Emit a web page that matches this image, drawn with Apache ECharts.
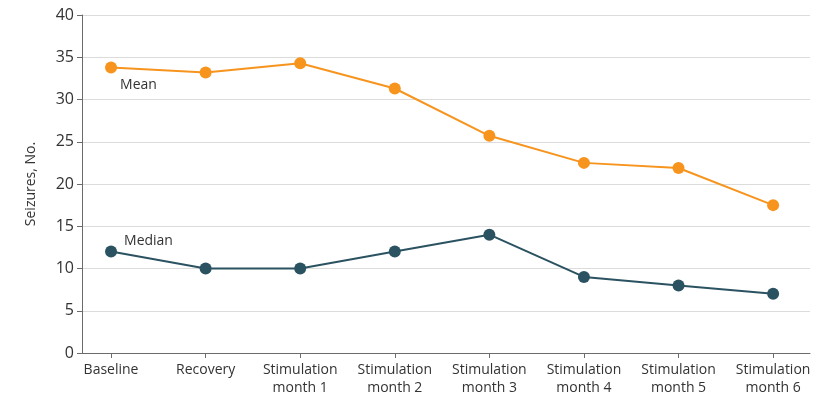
<!DOCTYPE html>
<html><head><meta charset="utf-8">
<script src="https://cdn.jsdelivr.net/npm/echarts@6/dist/echarts.min.js"></script>
<style>html,body{margin:0;padding:0;background:#fff}#c{width:821px;height:396px}</style>
</head><body><div id="c"></div>
<script>
const categories = ['Baseline','Recovery','Stimulation\nmonth 1','Stimulation\nmonth 2','Stimulation\nmonth 3','Stimulation\nmonth 4','Stimulation\nmonth 5','Stimulation\nmonth 6'];
const meanValues = [33.8, 33.2, 34.3, 31.3, 25.7, 22.5, 21.9, 17.5];
const medianValues = [12, 10, 10, 12, 14, 9, 8, 7];
const yTicks = [0, 5, 10, 15, 20, 25, 30, 35, 40];
const seriesNames = ['Mean', 'Median'];

const font = '"Open Sans", sans-serif';
const idx = categories.map((_, i) => i);
function pts(vals){ return vals.map((v,i)=>[i,v]); }

const chart = echarts.init(document.getElementById('c'));
chart.setOption({
  animation:false,
  grid:{left:82, right:11, top:15, bottom:43, containLabel:false, outerBoundsMode:'none'},
  xAxis:{
    type:'value', min:-0.307, max:7.39,
    axisLine:{show:true, onZero:false, lineStyle:{color:'#6b6b6b', width:1}},
    axisTick:{show:true, customValues:idx, length:5, lineStyle:{color:'#6b6b6b'}},
    axisLabel:{customValues:idx, formatter:(v)=>categories[Math.round(v)], color:'#333', fontFamily:font, fontSize:14, lineHeight:18, margin:8},
    splitLine:{show:false}
  },
  yAxis:{
    type:'value', min:0, max:40, interval:5,
    name:'Seizures, No.', nameLocation:'middle', nameGap:44, nameRotate:90,
    nameTextStyle:{color:'#333', fontFamily:font, fontSize:14},
    axisLine:{show:true, onZero:false, lineStyle:{color:'#6b6b6b', width:1}},
    axisTick:{show:true, length:5, lineStyle:{color:'#6b6b6b'}},
    axisLabel:{color:'#333', fontFamily:font, fontSize:16, margin:8, formatter:(v)=>yTicks.includes(v)?String(v):''},
    splitLine:{show:true, lineStyle:{color:'#dcdcdc', width:1}}
  },
  series:[
    {name:seriesNames[0], type:'line', data:pts(meanValues).map((p,i)=> i===0 ? {value:p, label:{show:true, formatter:seriesNames[0], position:'right', offset:[-2,18], color:'#333', fontFamily:font, fontSize:14}} : p),
     symbol:'circle', symbolSize:12, itemStyle:{color:'#F7941D'}, lineStyle:{color:'#F7941D', width:2}, z:3},
    {name:seriesNames[1], type:'line', data:pts(medianValues).map((p,i)=> i===0 ? {value:p, label:{show:true, formatter:seriesNames[1], position:'right', offset:[2,-11], color:'#333', fontFamily:font, fontSize:14}} : p),
     symbol:'circle', symbolSize:12, itemStyle:{color:'#2B5261'}, lineStyle:{color:'#2B5261', width:2}, z:3}
  ]
});
</script></body></html>
